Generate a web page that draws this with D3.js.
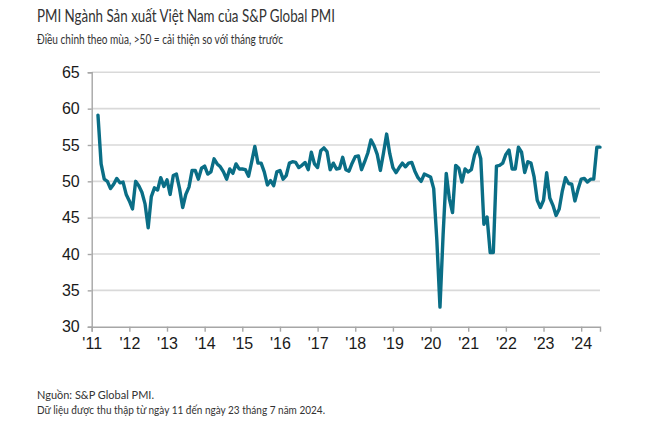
<!DOCTYPE html>
<html>
<head>
<meta charset="utf-8">
<script src="https://cdn.jsdelivr.net/npm/d3@7"></script>
<style>
  html, body { margin: 0; padding: 0; background: #ffffff; }
  svg { display: block; }
</style>
</head>
<body>
<svg id="chart" width="669" height="426"></svg>
<script>
// ---- Data (monthly, March 2011 – July 2024) ----
const firstMonth = { year: 2011, month: 3 };
const pmiValues = [
  // 2011 (Mar–Dec)
  59.1, 52.4, 50.3, 50.0, 49.0, 49.6, 50.4, 49.8, 49.9, 48.2,
  // 2012
  47.3, 46.2, 50.0, 49.4, 48.5, 46.9, 43.6, 47.9, 49.1, 48.8, 50.5, 49.3,
  // 2013
  50.2, 48.2, 50.8, 51.0, 49.0, 46.4, 48.2, 49.2, 51.5, 51.5, 50.3, 51.8,
  // 2014
  52.1, 51.0, 51.3, 53.1, 52.4, 52.0, 51.3, 50.3, 51.7, 51.1, 52.4, 51.7,
  // 2015
  51.7, 51.6, 50.7, 52.7, 54.8, 52.5, 52.5, 51.3, 49.5, 50.1, 49.4, 51.3,
  // 2016
  51.5, 50.3, 50.8, 52.5, 52.7, 52.6, 51.9, 52.2, 52.6, 51.6, 54.0, 52.4,
  // 2017
  51.9, 54.2, 54.6, 54.1, 51.6, 52.5, 51.7, 51.8, 53.3, 51.6, 51.4, 52.5,
  // 2018
  53.4, 53.5, 51.6, 52.7, 53.9, 55.7, 54.9, 53.7, 51.5, 53.9, 56.5, 53.8,
  // 2019
  51.9, 51.2, 51.9, 52.5, 52.0, 52.5, 52.6, 51.4, 50.5, 50.0, 51.0, 50.8,
  // 2020
  50.6, 49.0, 41.9, 32.7, 42.7, 51.1, 47.6, 45.7, 52.2, 51.8, 49.9, 51.7,
  // 2021
  51.3, 51.6, 53.6, 54.7, 53.1, 44.1, 45.1, 40.2, 40.2, 52.1, 52.2, 52.5,
  // 2022
  53.7, 54.3, 51.7, 51.7, 54.7, 54.0, 51.2, 52.7, 52.5, 50.6, 47.4, 46.4,
  // 2023
  47.4, 51.2, 47.7, 46.7, 45.3, 46.2, 48.7, 50.5, 49.7, 49.6, 47.3, 48.9,
  // 2024 (Jan–Jul)
  50.3, 50.4, 49.9, 50.3, 50.3, 54.7, 54.7
];
const yearTickLabels = ["'11","'12","'13","'14","'15","'16","'17","'18","'19","'20","'21","'22","'23","'24"];
const yTickValues = [30, 35, 40, 45, 50, 55, 60, 65];

const titleText = "PMI Ngành Sản xuất Việt Nam của S&P Global PMI";
const subtitleText = "Điều chỉnh theo mùa, >50 = cải thiện so với tháng trước";
const sourceLines = [
  "Nguồn: S&P Global PMI.",
  "Dữ liệu được thu thập từ ngày 11 đến ngày 23 tháng 7 năm 2024."
];

// ---- Layout ----
const svg = d3.select("#chart");
const plotLeft = 91.7, plotRight = 600, plotTop = 72.3, plotBottom = 326.7;
const baseYear = 2011;
const startIndex = (firstMonth.year - baseYear) * 12 + (firstMonth.month - 1);
const points = pmiValues.map((v, k) => ({ idx: startIndex + k, value: v }));
const lastIndex = points[points.length - 1].idx;

const x = d3.scaleLinear().domain([0, lastIndex]).range([plotLeft, plotRight]);
const y = d3.scaleLinear().domain([30, 65]).range([plotBottom, plotTop]);

const axisColor = "#a6a6a6";
const gridColor = "#d9d9d9";
const lineColor = "#0a6e86";
const textColor = "#333333";
const textFont = "Lato, 'Noto Sans', sans-serif";

// ---- Gridlines ----
svg.append("g")
  .selectAll("line")
  .data(yTickValues.filter(v => v !== 30))
  .join("line")
  .attr("x1", plotLeft).attr("x2", plotRight)
  .attr("y1", d => y(d)).attr("y2", d => y(d))
  .attr("stroke", gridColor).attr("stroke-width", 1.6);

// ---- Y axis ----
const yAxis = d3.axisLeft(y).tickValues(yTickValues).tickSize(4).tickPadding(8).tickFormat(d3.format("d"));
const gy = svg.append("g").attr("transform", `translate(${plotLeft},0)`).call(yAxis);
gy.select(".domain").attr("stroke", axisColor).attr("stroke-width", 1.4);
gy.selectAll(".tick line").attr("stroke", axisColor).attr("stroke-width", 1.4);
gy.selectAll(".tick text")
  .attr("fill", "#1a1a1a")
  .style("font-family", "'Liberation Sans', Arial, sans-serif")
  .style("font-size", "16px");

// ---- X axis (years) ----
const yearIdx = yearTickLabels.map((_, k) => k * 12);
const xAxis = d3.axisBottom(x).tickValues(yearIdx).tickSize(5).tickPadding(6)
  .tickFormat((d, k) => yearTickLabels[k]);
const gx = svg.append("g").attr("transform", `translate(0,${plotBottom})`).call(xAxis);
gx.select(".domain").attr("stroke", axisColor).attr("stroke-width", 1.4);
gx.selectAll(".tick line").attr("stroke", axisColor).attr("stroke-width", 1.4);
gx.selectAll(".tick text")
  .attr("fill", "#1a1a1a")
  .style("font-family", "'Liberation Sans', Arial, sans-serif")
  .style("font-size", "16px");

// ---- Line ----
const line = d3.line().x(d => x(d.idx)).y(d => y(d.value)).curve(d3.curveLinear);
svg.append("path")
  .datum(points)
  .attr("d", line)
  .attr("fill", "none")
  .attr("stroke", lineColor)
  .attr("stroke-width", 3.4)
  .attr("stroke-linejoin", "round")
  .attr("stroke-linecap", "round");

// ---- Titles ----
svg.append("text")
  .attr("x", 37).attr("y", 22)
  .attr("fill", textColor)
  .attr("textLength", 298).attr("lengthAdjust", "spacingAndGlyphs")
  .style("font-family", textFont)
  .style("font-size", "17px")
  .text(titleText);

svg.append("text")
  .attr("x", 37).attr("y", 44)
  .attr("fill", textColor)
  .attr("textLength", 246).attr("lengthAdjust", "spacingAndGlyphs")
  .style("font-family", textFont)
  .style("font-size", "13px")
  .text(subtitleText);

// ---- Source notes ----
const srcWidths = [117, 288];
svg.append("g")
  .selectAll("text")
  .data(sourceLines)
  .join("text")
  .attr("x", 37)
  .attr("y", (d, k) => 398.5 + k * 15)
  .attr("fill", textColor)
  .attr("textLength", (d, k) => srcWidths[k]).attr("lengthAdjust", "spacingAndGlyphs")
  .style("font-family", textFont)
  .style("font-size", "12px")
  .text(d => d);
</script>
</body>
</html>
